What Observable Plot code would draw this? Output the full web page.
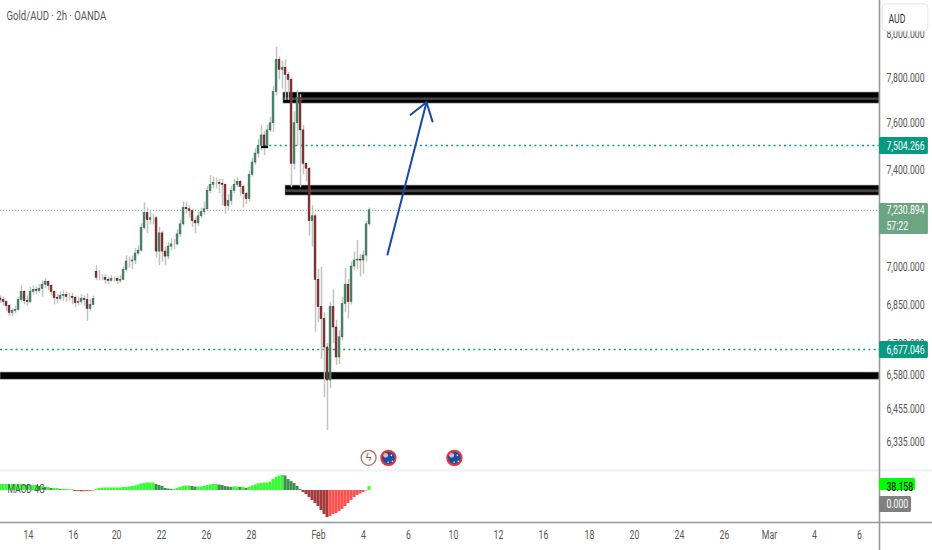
<!DOCTYPE html>
<html>
<head>
<meta charset="utf-8">
<script src="https://cdn.jsdelivr.net/npm/d3@7"></script>
<script src="https://cdn.jsdelivr.net/npm/@observablehq/plot@0.6"></script>
<style>
html,body{margin:0;padding:0;background:#fff;overflow:hidden}
#chart{width:932px;height:550px;line-height:0}
#chart svg{display:block;background:transparent}
</style>
</head>
<body>
<div id="chart"></div>
<script>
const closes=[6869,6861,6845,6818,6826,6830,6869,6901,6865,6861,6901,6909,6905,6913,6929,6941,6925,6901,6877,6873,6885,6889,6881,6881,6877,6857,6861,6873,6869,6834,6849,6873,6957,6957,6957,6949,6945,6953,6953,6945,6949,6989,7022,7022,7026,7054,7066,7157,7219,7190,7198,7198,7062,7136,7062,7042,7082,7091,7091,7132,7173,7240,7235,7227,7186,7177,7206,7223,7235,7311,7337,7345,7345,7341,7337,7248,7269,7311,7337,7350,7328,7298,7277,7379,7431,7469,7503,7547,7495,7569,7600,7737,7881,7836,7845,7813,7791,7426,7600,7710,7569,7426,7405,7186,7206,6949,6841,6794,6685,6560,6841,6762,6647,6724,6853,6929,6861,7002,7026,7030,7026,7046,7173,7231];
const highs=[6885,6880,6865,6850,6835,6845,6880,6925,6905,6885,6920,6925,6920,6930,6945,6955,6945,6930,6905,6890,6900,6905,6900,6895,6895,6885,6880,6890,6885,6893,6870,6885,7005,6985,6970,6970,6960,6965,6960,6960,6965,7000,7045,7040,7045,7075,7085,7175,7262,7240,7225,7215,7205,7160,7145,7080,7100,7115,7110,7150,7190,7265,7265,7250,7235,7200,7225,7240,7265,7330,7375,7370,7365,7360,7360,7340,7295,7330,7360,7365,7355,7335,7305,7395,7450,7490,7530,7590,7565,7590,7625,7760,7938,7895,7875,7880,7825,7800,7650,7745,7725,7590,7420,7410,7250,7215,6990,7000,6820,6700,6860,6909,6790,6750,6880,6995,6950,7020,7060,7107,7050,7065,7185,7240];
const lows=[6855,6845,6825,6805,6805,6815,6825,6860,6850,6845,6855,6890,6890,6895,6880,6915,6905,6885,6850,6855,6865,6865,6860,6865,6850,6840,6845,6850,6845,6786,6825,6845,6945,6945,6945,6930,6930,6940,6940,6930,6935,6945,6980,6995,6990,7010,7045,7060,7150,7135,7170,7170,7035,7005,7020,7005,7030,7065,7070,7085,7120,7165,7215,7200,7160,7135,7165,7195,7210,7230,7300,7320,7320,7300,7250,7215,7225,7250,7300,7325,7290,7240,7255,7265,7370,7420,7450,7480,7460,7490,7560,7560,7720,7790,7750,7700,7700,7325,7400,7500,7325,7380,7350,7125,7080,6743,6780,6640,6495,6375,6530,6700,6617,6620,6710,6820,6795,6850,6985,6990,6960,6970,7020,7165];
const gapOpens=new Map([[0,6875],[32,6981]]);
const macd=[57,57,57,57,57,57,57,57,57,48,48,48,48,38,38,29,29,19,19,19,10,10,10,5,5,-10,-10,-12,-12,-10,-10,-5,10,19,24,24,24,24,24,24,24,29,29,33,38,43,52,62,67,71,71,71,57,48,38,19,14,10,10,19,29,38,43,43,38,33,33,33,38,48,52,57,57,52,48,38,33,29,33,33,29,29,19,29,43,52,62,67,71,71,81,105,124,138,143,138,105,86,67,38,10,-19,-38,-67,-95,-124,-152,-190,-228,-257,-247,-228,-219,-200,-181,-152,-124,-95,-67,-48,-33,-19,-5,38];

const priceTicks=[8000,7800,7600,7400,7000,6850,6700,6580,6455,6335];
const timeTickBars=[9.33,24.33,38.67,53.67,68.67,83.67,106,121,136,151,166,181,196.33,211.33,226.33,241.33,256.33,271.33,286.33];
const timeTickLabels=["14","16","20","22","26","28","Feb","4","6","10","12","16","18","20","24","26","Mar","4","6"];

const levels=[7504.266,6677.046];
const lastPrice=7230.894;
const zones=[{x1:94.3,y1:7735,y2:7686,m1:7711,m2:7700},{x1:95,y1:7334,y2:7292,m1:7316,m2:7304},{x1:0,y1:6590,y2:6563}];
const arrowShaft=[[129,7050],[142,7692]];
const arrowHead=[[136.7,7637],[142,7692],[144,7608]];

const axisBar=293, rightBar=310.67;
const font="Roboto,sans-serif";
const title="Gold/AUD · 2h · OANDA";

const bars=closes.map((c,i)=>{
  const o=gapOpens.has(i)?gapOpens.get(i):closes[i-1];
  return {i,o,c,h:highs[i],l:lows[i],up:c>=o};
});

const main=Plot.plot({
  width:932,height:466,
  margin:0,
  style:{fontFamily:font,background:"transparent"},
  x:{domain:[0,rightBar],range:[0,932],axis:null},
  y:{type:"log",domain:[6245,8153],range:[466,0],axis:null},
  marks:[
    Plot.rect(zones,{x1:"x1",x2:axisBar,y1:"y1",y2:"y2",fill:"#000",stroke:"#aaa",strokeWidth:0.6}),
    Plot.rect(zones.filter(z=>z.m1),{x1:"x1",x2:axisBar,y1:"m1",y2:"m2",fill:"#444"}),
    Plot.ruleY([lastPrice],{x1:0,x2:axisBar,stroke:"#6ba583",strokeWidth:1,strokeDasharray:"1 2"}),
    Plot.ruleY([levels[0]],{x1:88,x2:axisBar,stroke:"#089981",strokeWidth:1.6,strokeDasharray:"2 3.2"}),
    Plot.ruleY([levels[1]],{x1:0,x2:axisBar,stroke:"#089981",strokeWidth:1.6,strokeDasharray:"2 3.2"}),
    Plot.ruleX(bars,{x:"i",y1:"l",y2:"h",stroke:"#c2c2c2",strokeWidth:1.5}),
    Plot.rect(bars,{x1:d=>d.i-0.3,x2:d=>d.i+0.3,y1:"o",y2:"c",
      fill:d=>d.up?"#4a8f70":"#a93232",stroke:d=>d.up?"#2a5f48":"#3a0f0f",strokeWidth:0.5}),
    Plot.ruleY([7497],{x1:87,x2:89.3,stroke:"#000",strokeWidth:2}),
    Plot.line(arrowShaft,{x:"0",y:"1",stroke:"#1848a8",strokeWidth:2}),
    Plot.line(arrowHead,{x:"0",y:"1",stroke:"#1848a8",strokeWidth:2}),
    Plot.dot([[122.7,6276]],{x:"0",y:"1",r:7.5,fill:"#fff",stroke:"#b5686b",strokeWidth:1.2}),
    Plot.text([[122.7,6276]],{x:"0",y:"1",text:()=>"ϟ",fontSize:11,fill:"#a55"}),
    Plot.dot([[129.3,6276],[151.3,6276]],{x:"0",y:"1",r:7.2,fill:"#1a4fa0",stroke:"#e5393f",strokeWidth:2}),
    Plot.dot([[128.4,6285],[150.4,6285]],{x:"0",y:"1",r:2.4,fill:"#e8b0b8"}),
    Plot.dot([[130.3,6285],[130.6,6264],[152.3,6285],[152.6,6264],[129.2,6260],[151.2,6260]],{x:"0",y:"1",r:0.8,fill:"#fff"}),
    Plot.ruleX([axisBar],{stroke:"#999",strokeWidth:1.6}),
    Plot.text(priceTicks,{x:295.3,y:d=>d,text:d=>d3.format(",.3f")(d),textAnchor:"start",fontSize:13,fill:"#555"}),
    Plot.rect([{y1:7538,y2:7465,fill:"#089981"},{y1:7259,y2:7131,fill:"#6ba583"},{y1:6708,y2:6643,fill:"#089981"}],
      {x1:axisBar,x2:309.3,y1:"y1",y2:"y2",fill:"fill",rx:1.5}),
    Plot.text([{y:levels[0],t:"7,504.266"},{y:7232,t:"7,230.894"},{y:7168,t:"57:22"},{y:levels[1],t:"6,677.046"}],
      {x:295.3,y:"y",text:"t",textAnchor:"start",fontSize:13,fill:"#fff"}),
    Plot.rect([{y1:8135,y2:8010}],{x1:294,x2:309.3,y1:"y1",y2:"y2",fill:"#fff",stroke:"#e0e3eb",rx:4}),
    Plot.text(["AUD"],{x:296,y:8070,text:d=>d,textAnchor:"start",fontSize:13,fill:"#333"}),
    Plot.text([title],{frameAnchor:"top-left",dx:6,dy:10,text:d=>d,fontSize:13,fill:"#555"})
  ]
});

const macdPlot=Plot.plot({
  width:932,height:84,
  marginTop:0,marginLeft:0,marginRight:0,marginBottom:28,
  style:{fontFamily:font,background:"transparent"},
  x:{domain:[0,rightBar],range:[0,932],axis:null},
  y:{domain:[-304,228],range:[56,0],axis:null},
  marks:[
    Plot.ruleY([190],{stroke:"#eef0f5",strokeWidth:2}),
    Plot.rect(macd,{x1:(d,i)=>i-0.5,x2:(d,i)=>i+0.5,y1:0,y2:d=>d,
      fill:(d,i)=>{const p=i?macd[i-1]:d; return d>=0?(d>=p?"#33ff33":"#3f8f4f"):(d<p?"#a33b3b":"#ff5050");}}),
    Plot.ruleY([-304],{stroke:"#999",strokeWidth:1.6}),
    Plot.ruleX([axisBar],{y1:-570,y2:228,stroke:"#999",strokeWidth:1.6}),
    Plot.axisX({ticks:timeTickBars,tickFormat:d=>timeTickLabels[timeTickBars.indexOf(d)],tickSize:0,tickPadding:7,fontSize:13,fill:"#555",anchor:"bottom",label:null}),
    Plot.text(["MACD 4G"],{x:2.3,y:19,text:d=>d,textAnchor:"start",fontSize:13,fill:"#555"}),
    Plot.rect([{y1:114,y2:0,fill:"#00ff00"}],{x1:axisBar,x2:305,y1:"y1",y2:"y2",fill:"fill",rx:1.5}),
    Plot.rect([{y1:-57,y2:-209,fill:"#808080"}],{x1:axisBar,x2:303.7,y1:"y1",y2:"y2",fill:"fill",rx:1.5}),
    Plot.text(["38.158"],{x:295.3,y:38,text:d=>d,textAnchor:"start",fontSize:13,fill:"#000"}),
    Plot.text(["0.000"],{x:295.3,y:-123,text:d=>d,textAnchor:"start",fontSize:13,fill:"#fff"})
  ]
});

const root=document.getElementById("chart");
root.appendChild(main);
root.appendChild(macdPlot);

// The reference's lettering is horizontally condensed: squeeze each text to match.
root.querySelectorAll("text").forEach(t=>{
  if(t.textContent==="ϟ")return;
  const k=t.textContent===title?0.74:0.67;
  t.setAttribute("transform",(t.getAttribute("transform")||"")+` scale(${k},1)`);
});
</script>
</body>
</html>
